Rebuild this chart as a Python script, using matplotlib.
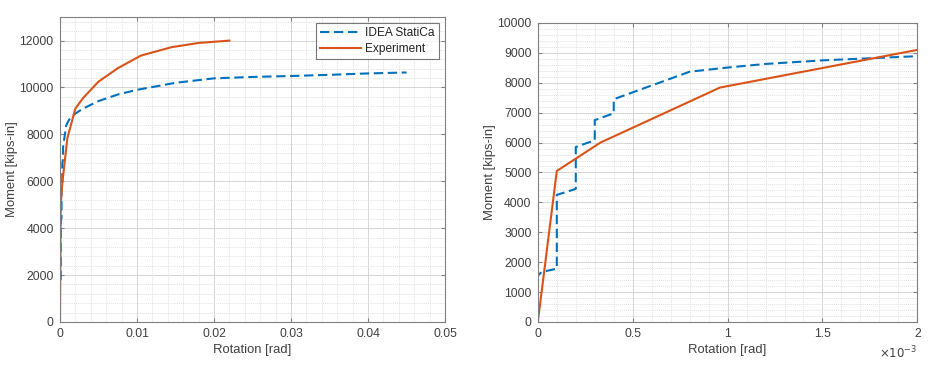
import matplotlib
matplotlib.use("Agg")
import matplotlib.pyplot as plt
from matplotlib.ticker import MultipleLocator, AutoMinorLocator, FuncFormatter

plt.rcParams['font.family'] = ['Liberation Sans', 'DejaVu Sans']

# IDEA StatiCa (rotation [rad], moment [kips-in])
idea_rot = [0, 0, 0.00002, 0.0001, 0.0001, 0.0002, 0.0002, 0.0003, 0.0003, 0.0004, 0.0004,
            0.0008, 0.001, 0.0012, 0.0015, 0.002, 0.003, 0.005, 0.0075, 0.01, 0.015, 0.02,
            0.025, 0.03, 0.035, 0.04, 0.045]
idea_mom = [0, 1550, 1670, 1780, 4250, 4450, 5850, 6080, 6750, 6980, 7450,
            8370, 8510, 8630, 8750, 8890, 9100, 9420, 9700, 9900, 10200, 10390,
            10450, 10490, 10540, 10600, 10640]

# Experiment
exp_rot = [0, 0.0001, 0.00033, 0.00096, 0.002, 0.003, 0.005, 0.0075, 0.0085, 0.0105,
           0.0145, 0.018, 0.02, 0.022]
exp_mom = [0, 5050, 6000, 7840, 9100, 9550, 10250, 10820, 11000, 11360,
           11720, 11900, 11950, 12000]

labels = ["IDEA StatiCa", "Experiment"]
blue = "#0072BD"
orange = "#D95319"
axcol = "#808080"
txtcol = "#404040"

fig = plt.figure(figsize=(9.37, 3.65), dpi=100)
ax1 = fig.add_axes([0.064, 0.118, 0.411, 0.835])
ax2 = fig.add_axes([0.574, 0.118, 0.405, 0.819])

def style(ax):
    ax.set_axisbelow(True)
    ax.grid(which='major', color='#d6d6d6', linewidth=0.7)
    ax.grid(which='minor', color='#e2e2e2', linewidth=0.7, linestyle=(0, (1, 1)))
    ax.tick_params(which='both', direction='in', top=True, right=True,
                   colors=axcol, labelcolor=txtcol, labelsize=8.8)
    ax.tick_params(which='major', length=3, pad=4.5)
    ax.tick_params(which='minor', length=0)
    for s in ax.spines.values():
        s.set_color(axcol)
        s.set_linewidth(0.8)
    ax.xaxis.set_minor_locator(AutoMinorLocator(5))
    ax.yaxis.set_minor_locator(AutoMinorLocator(5))
    ax.set_xlabel("Rotation [rad]", fontsize=9.4, color=txtcol, labelpad=3)
    ax.set_ylabel("Moment [kips-in]", fontsize=9.4, color=txtcol, labelpad=1)

# Left panel
ax1.plot(idea_rot, idea_mom, '--', color=blue, lw=1.5, dashes=(4.5, 2.2), label=labels[0])
ax1.plot(exp_rot, exp_mom, '-', color=orange, lw=1.5, label=labels[1])
ax1.set_xlim(0, 0.05)
ax1.set_ylim(0, 13000)
ax1.xaxis.set_major_locator(MultipleLocator(0.01))
ax1.yaxis.set_major_locator(MultipleLocator(2000))
ax1.xaxis.set_major_formatter(FuncFormatter(lambda v, p: "0" if abs(v) < 1e-12 else f"{v:g}"))
style(ax1)
leg = ax1.legend(loc='upper right', fontsize=8.6, frameon=True, fancybox=False,
                 handlelength=3.4, borderpad=0.35, labelspacing=0.3, handletextpad=0.4,
                 borderaxespad=0.5)
leg.get_frame().set_edgecolor('#555555')
leg.get_frame().set_linewidth(0.8)
for t in leg.get_texts():
    t.set_color('#222222')

# Right panel
ax2.plot(idea_rot, idea_mom, '--', color=blue, lw=1.5, dashes=(4.5, 2.2))
ax2.plot(exp_rot, exp_mom, '-', color=orange, lw=1.5)
ax2.set_xlim(0, 0.002)
ax2.set_ylim(0, 10000)
ax2.xaxis.set_major_locator(MultipleLocator(0.0005))
ax2.yaxis.set_major_locator(MultipleLocator(1000))
ax2.xaxis.set_major_formatter(FuncFormatter(lambda v, p: f"{v*1000:g}"))
style(ax2)
ax2.text(1.0, -0.105, r"$\times10^{-3}$", transform=ax2.transAxes, ha='right', va='center',
         fontsize=8.5, color=txtcol)

fig.savefig("out.png", dpi=100)
